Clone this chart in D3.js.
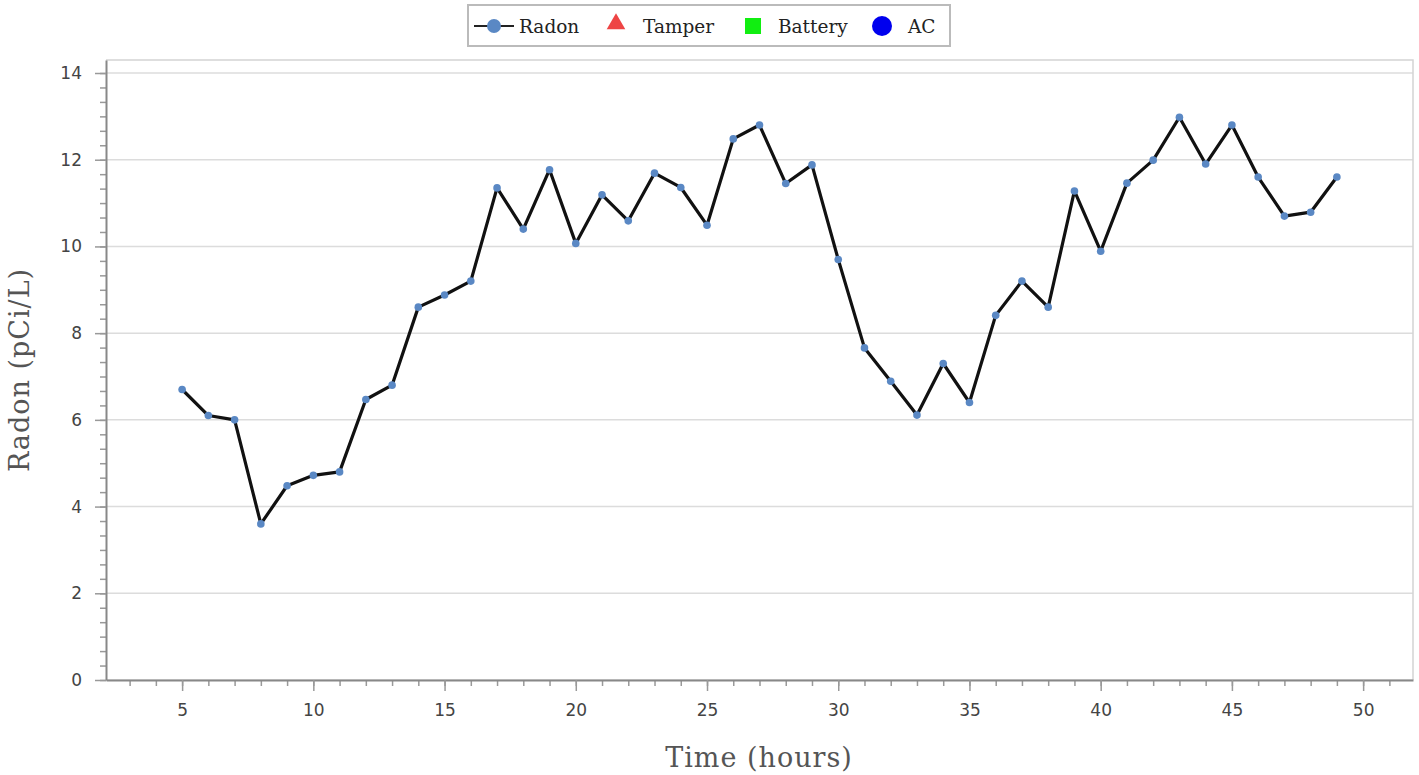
<!DOCTYPE html>
<html>
<head>
<meta charset="utf-8">
<script src="https://cdn.jsdelivr.net/npm/d3@7"></script>
<style>
  body { margin: 0; background: #fff; }
  .tick text { font-family: "DejaVu Sans", sans-serif; font-size: 17px; fill: #444; }
  .axisTitle { font-family: "DejaVu Serif", serif; font-size: 27px; letter-spacing: 1px; fill: #555; }
  .legendText { font-family: "DejaVu Serif", serif; font-size: 18.5px; fill: #222; }
</style>
</head>
<body>
<div class="chart"></div>
<script>
// data
var hours = [5, 6, 7, 8, 9, 10, 11, 12, 13, 14, 15, 16, 17, 18, 19, 20, 21, 22, 23, 24, 25,
  26, 27, 28, 29, 30, 31, 32, 33, 34, 35, 36, 37, 38, 39, 40, 41, 42, 43, 44, 45, 46, 47, 48, 49];
var radon = [6.7, 6.1, 6.0, 3.6, 4.48, 4.72, 4.8, 6.47, 6.8, 8.6, 8.88, 9.2, 11.35, 10.4, 11.77,
  10.07, 11.19, 10.59, 11.69, 11.36, 10.49, 12.48, 12.8, 11.45, 11.88, 9.7, 7.66, 6.89, 6.11,
  7.3, 6.4, 8.41, 9.2, 8.6, 11.28, 9.89, 11.46, 11.99, 12.98, 11.9, 12.8, 11.6, 10.7, 10.79, 11.6];
var xTicks = [5, 10, 15, 20, 25, 30, 35, 40, 45, 50];
var yTicks = [0, 2, 4, 6, 8, 10, 12, 14];
var legendNames = ["Radon", "Tamper", "Battery", "AC"];

var svgWidth = 1419;
var svgHeight = 775;
var margin = { top: 60, right: 6, bottom: 95, left: 106 };
var width = svgWidth - margin.left - margin.right;
var height = svgHeight - margin.top - margin.bottom;

var svg = d3.select(".chart")
  .append("svg")
  .attr("width", svgWidth)
  .attr("height", svgHeight);

var chartGroup = svg.append("g")
  .attr("transform", `translate(${margin.left}, ${margin.top})`);

var xLinearScale = d3.scaleLinear().domain([2.1, 51.9]).range([0, width]);
var yLinearScale = d3.scaleLinear().domain([0, 14.3]).range([height, 0]);

// grid lines
chartGroup.append("g")
  .selectAll("line")
  .data(yTicks)
  .enter()
  .append("line")
  .attr("x1", 0)
  .attr("x2", width)
  .attr("y1", d => yLinearScale(d))
  .attr("y2", d => yLinearScale(d))
  .style("stroke", "#dcdcdc")
  .style("stroke-width", 1.5);

// frame top and right
chartGroup.append("path")
  .attr("d", `M0,0H${width}V${height}`)
  .style("fill", "none")
  .style("stroke", "#d4d4d4")
  .style("stroke-width", 1.5);

// minor ticks
var xMinor = d3.range(3, 52);
var yMinor = d3.range(0, 43).map(i => i * 2 / 6).filter(v => v <= 14.3);

chartGroup.append("g")
  .attr("transform", `translate(0, ${height})`)
  .call(d3.axisBottom(xLinearScale).tickValues(xMinor).tickSize(6).tickFormat(""))
  .call(g => g.select(".domain").remove())
  .selectAll("line").style("stroke", "#999").style("stroke-width", 1.5);

chartGroup.append("g")
  .call(d3.axisLeft(yLinearScale).tickValues(yMinor).tickSize(6).tickFormat(""))
  .call(g => g.select(".domain").remove())
  .selectAll("line").style("stroke", "#999").style("stroke-width", 1.5);

// major axes
var bottomAxis = d3.axisBottom(xLinearScale).tickValues(xTicks).tickSize(11).tickPadding(13).tickSizeOuter(0);
var leftAxis = d3.axisLeft(yLinearScale).tickValues(yTicks).tickSize(11).tickPadding(13).tickSizeOuter(0);

var xAxisG = chartGroup.append("g")
  .attr("transform", `translate(0, ${height})`)
  .call(bottomAxis);
var yAxisG = chartGroup.append("g")
  .call(leftAxis);

[xAxisG, yAxisG].forEach(function(g) {
  g.select(".domain").style("stroke", "#888").style("stroke-width", 2);
  g.selectAll(".tick line").style("stroke", "#999").style("stroke-width", 1.5);
});

// line
var line = d3.line()
  .x((d, i) => xLinearScale(hours[i]))
  .y(d => yLinearScale(d));

chartGroup.append("path")
  .datum(radon)
  .attr("d", line)
  .style("fill", "none")
  .style("stroke", "#111")
  .style("stroke-width", 3.2)
  .style("stroke-linejoin", "round");

chartGroup.selectAll("circle.pt")
  .data(radon)
  .enter()
  .append("circle")
  .attr("class", "pt")
  .attr("cx", (d, i) => xLinearScale(hours[i]))
  .attr("cy", d => yLinearScale(d))
  .attr("r", 3.8)
  .attr("fill", "#5a88c4");

// axis titles
chartGroup.append("text")
  .attr("class", "axisTitle")
  .attr("text-anchor", "middle")
  .attr("transform", `translate(-77, ${height / 2}) rotate(-90)`)
  .text("Radon (pCi/L)");

chartGroup.append("text")
  .attr("class", "axisTitle")
  .attr("text-anchor", "middle")
  .attr("x", 759 - margin.left)
  .attr("y", height + 87)
  .text("Time (hours)");

// legend
var legend = svg.append("g");
legend.append("rect")
  .attr("x", 468).attr("y", 5)
  .attr("width", 482).attr("height", 41)
  .style("fill", "#fff")
  .style("stroke", "#bbb")
  .style("stroke-width", 2);

legend.append("line")
  .attr("x1", 474).attr("x2", 514).attr("y1", 26).attr("y2", 26)
  .style("stroke", "#222").style("stroke-width", 2);
legend.append("circle")
  .attr("cx", 494).attr("cy", 26).attr("r", 7).attr("fill", "#5a88c4");
legend.append("path")
  .attr("d", d3.symbol().type(d3.symbolTriangle).size(150))
  .attr("transform", "translate(616, 24)")
  .attr("fill", "#ee4444");
legend.append("rect")
  .attr("x", 745).attr("y", 18).attr("width", 16).attr("height", 16)
  .attr("fill", "#11ee11");
legend.append("circle")
  .attr("cx", 882).attr("cy", 26).attr("r", 10).attr("fill", "#0000ee");

var legendX = [519, 643, 778, 908];
legend.selectAll("text")
  .data(legendNames)
  .enter()
  .append("text")
  .attr("class", "legendText")
  .attr("x", (d, i) => legendX[i])
  .attr("y", 33)
  .text(d => d);
</script>
</body>
</html>
